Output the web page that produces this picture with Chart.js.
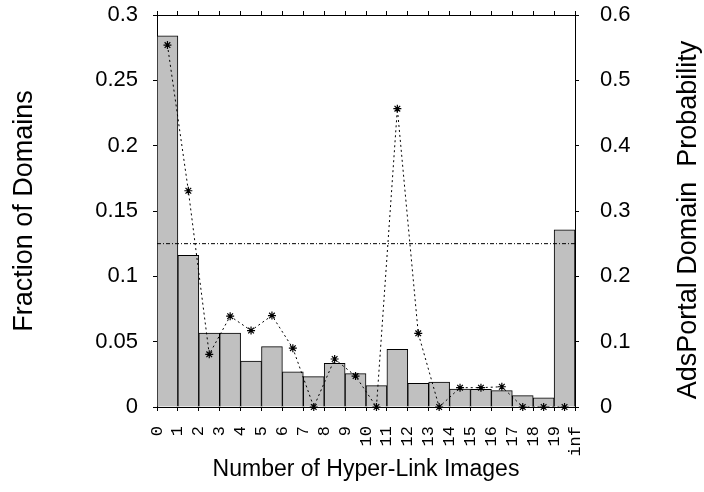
<!DOCTYPE html>
<html>
<head>
<meta charset="utf-8">
<script src="https://cdn.jsdelivr.net/npm/chart.js@4.4.1/dist/chart.umd.min.js"></script>
<style>
  html, body { margin: 0; padding: 0; background: #fff; }
  canvas { display: block; }
</style>
</head>
<body>
<canvas id="chart" width="704" height="492"></canvas>
<script>
// tick labels sit on the bin edges, bars/points sit between them
const xTickLabels = ["0", "1", "2", "3", "4", "5", "6", "7", "8", "9", "10",
  "11", "12", "13", "14", "15", "16", "17", "18", "19", "inf"];

// fraction of domains per number of hyper-link images (left axis)
const fractionOfDomains = [0.284, 0.116, 0.0565, 0.0565, 0.0352, 0.0462, 0.027, 0.0232,
  0.0334, 0.0255, 0.0163, 0.0441, 0.0181, 0.0191, 0.0138, 0.0135, 0.0125, 0.0087, 0.0071, 0.1355];

// probability that such a domain is an ads portal (right axis)
const adsPortalProbability = [0.554, 0.331, 0.0806, 0.139, 0.117, 0.140, 0.0900, 0, 0.0735,
  0.0474, 0, 0.4566, 0.1128, 0, 0.0296, 0.0296, 0.031, 0, 0, 0];

// overall probability, drawn as a reference line
const overallProbability = 0.25;

const black = "#000";
const sans = "'Liberation Sans', Arial, Helvetica, sans-serif";

const barPoints = fractionOfDomains.map((v, i) => ({ x: i + 0.5, y: v }));
const probPoints = adsPortalProbability.map((v, i) => ({ x: i + 0.5, y: v }));
const refLine = [{ x: 0, y: overallProbability }, { x: xTickLabels.length - 1, y: overallProbability }];

// right axis title reads bottom-to-top like the left one
const rightTitle = {
  id: "rightTitle",
  afterDraw(chart) {
    const ctx = chart.ctx;
    ctx.save();
    ctx.translate(689, 220);
    ctx.rotate(-Math.PI / 2);
    ctx.font = "27px " + sans;
    ctx.fillStyle = black;
    ctx.textAlign = "center";
    ctx.textBaseline = "middle";
    ctx.fillText("AdsPortal Domain  Probability", 0, 0);
    ctx.restore();
  }
};

const tickGrid = {
  drawOnChartArea: false,
  drawTicks: true,
  tickLength: 4,
  tickColor: black,
  tickWidth: 1
};

// fixed box sizes so the plot area stays put; label overhang ignored
function fixBox(size) {
  return s => {
    if (s.isHorizontal()) s.height = size; else s.width = size;
    s.paddingTop = s.paddingBottom = s.paddingLeft = s.paddingRight = 0;
  };
}

new Chart(document.getElementById("chart"), {
  data: {
    datasets: [
      {
        type: "line",
        data: probPoints,
        yAxisID: "y2",
        xAxisID: "x",
        borderColor: black,
        borderWidth: 1,
        borderDash: [2, 3],
        tension: 0,
        pointStyle: "star",
        pointRadius: 4,
        pointBorderColor: black,
        pointBorderWidth: 1.2,
        pointBackgroundColor: black,
        clip: false,
        order: 1
      },
      {
        type: "line",
        data: refLine,
        yAxisID: "y2",
        xAxisID: "x",
        borderColor: black,
        borderWidth: 1,
        borderDash: [4, 2, 1, 2],
        pointRadius: 0,
        order: 1
      },
      {
        type: "bar",
        data: barPoints,
        yAxisID: "y",
        xAxisID: "x",
        backgroundColor: "#c0c0c0",
        borderColor: black,
        borderWidth: 1,
        barPercentage: 1,
        categoryPercentage: 1,
        order: 2
      }
    ]
  },
  options: {
    responsive: false,
    animation: false,
    devicePixelRatio: 1,
    layout: { padding: 0 },
    plugins: {
      legend: { display: false },
      tooltip: { enabled: false }
    },
    scales: {
      x: {
        type: "linear",
        position: "bottom",
        offset: false,
        min: 0,
        max: xTickLabels.length - 1,
        afterFit: fixBox(85),
        border: { display: true, color: black, width: 1 },
        grid: { ...tickGrid, offset: false },
        ticks: {
          stepSize: 1,
          autoSkip: false,
          minRotation: 90,
          maxRotation: 90,
          padding: 15,
          color: black,
          font: { family: "'Liberation Mono', 'Courier New', monospace", size: 17 },
          callback: v => xTickLabels[v]
        },
        title: {
          display: true,
          text: "Number of Hyper-Link Images",
          color: black,
          font: { family: sans, size: 23 },
          padding: { top: 0, bottom: 9 }
        }
      },
      xTop: {
        type: "linear",
        position: "top",
        offset: false,
        min: 0,
        max: xTickLabels.length - 1,
        afterFit: fixBox(15),
        border: { display: true, color: black, width: 1 },
        grid: { ...tickGrid, offset: false },
        ticks: { stepSize: 1, display: false }
      },
      y: {
        type: "linear",
        position: "left",
        min: 0,
        max: 0.3,
        afterFit: fixBox(157),
        border: { display: true, color: black, width: 1 },
        grid: tickGrid,
        ticks: {
          stepSize: 0.05,
          padding: 15,
          color: black,
          font: { family: sans, size: 22 },
          callback: v => String(+v.toFixed(2))
        },
        title: {
          display: true,
          text: "Fraction of Domains",
          color: black,
          font: { family: sans, size: 27 },
          padding: { top: 8, bottom: 0 }
        }
      },
      y2: {
        type: "linear",
        position: "right",
        min: 0,
        max: 0.6,
        afterFit: fixBox(129),
        border: { display: true, color: black, width: 1 },
        grid: tickGrid,
        ticks: {
          stepSize: 0.1,
          padding: 21,
          color: black,
          font: { family: sans, size: 22 },
          callback: v => String(+v.toFixed(1))
        }
      }
    }
  },
  plugins: [rightTitle]
});
</script>
</body>
</html>
